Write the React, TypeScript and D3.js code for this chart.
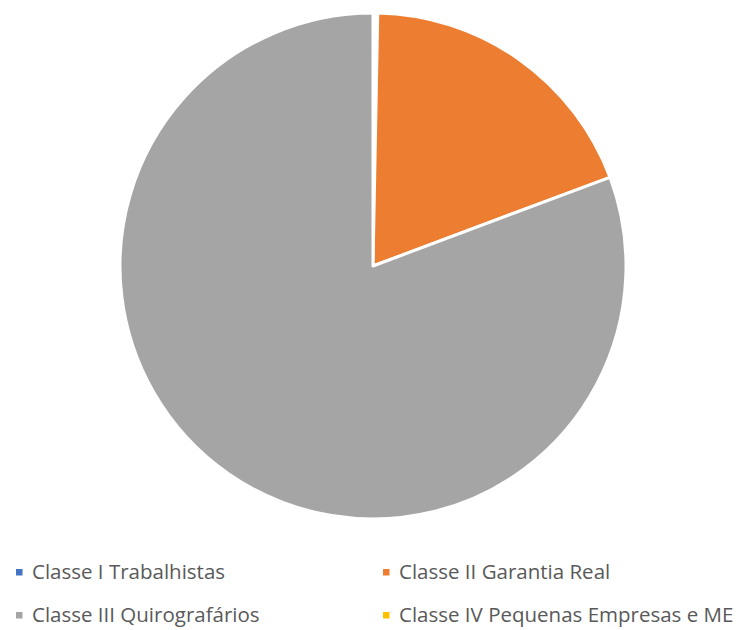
import React, { useEffect, useRef } from "react";
import * as d3 from "d3";

// Legend / slice categories and their share of the total (%)
const categories = [
  "Classe I Trabalhistas",
  "Classe II Garantia Real",
  "Classe III Quirografários",
  "Classe IV Pequenas Empresas e ME",
];
const values = [0.3, 19.0, 80.7, 0.0];
const colors = ["#4472C4", "#ED7D31", "#A5A5A5", "#FFC000"];

const App = () => {
  const ref = useRef<SVGSVGElement | null>(null);

  useEffect(() => {
    const width = 743,
      height = 630;
    const cx = 373,
      cy = 266,
      radius = 253;

    const svg = d3.select(ref.current);
    svg.selectAll("*").remove();
    svg.attr("width", width).attr("height", height);

    svg.append("rect").attr("width", width).attr("height", height).attr("fill", "#fff");

    const data = categories.map((c, i) => ({ name: c, value: values[i], color: colors[i] }));

    // Excel-style pie: starts at 12 o'clock, clockwise, no sorting
    const pie = d3
      .pie<{ name: string; value: number; color: string }>()
      .sort(null)
      .value((d) => d.value);
    const arc = d3.arc<d3.PieArcDatum<any>>().innerRadius(0).outerRadius(radius);

    const g = svg.append("g").attr("transform", `translate(${cx},${cy})`);
    g.selectAll("path")
      .data(pie(data).filter((d) => d.data.value > 0))
      .enter()
      .append("path")
      .attr("d", arc as any)
      .attr("fill", (d) => d.data.color)
      .attr("stroke", "#fff")
      // the white border swallows very thin slices, as in the original
      .attr("stroke-width", (d) => (d.data.value < 1 ? 6 : 3))
      .attr("stroke-linejoin", "round");

    // Legend, two columns
    const colX = [16, 383];
    const rowY = [572, 615];
    const legend = svg
      .selectAll(".legend")
      .data(data)
      .enter()
      .append("g")
      .attr("class", "legend")
      .attr("transform", (_d, i) => `translate(${colX[i % 2]},${rowY[Math.floor(i / 2)]})`);

    legend
      .append("rect")
      .attr("x", 0)
      .attr("y", -3)
      .attr("width", 6.5)
      .attr("height", 6.5)
      .attr("fill", (d) => d.color);

    legend
      .append("text")
      .attr("x", 16)
      .attr("y", 7)
      .attr("fill", "#595959")
      .style("font-family", "'Open Sans', 'Liberation Sans', sans-serif")
      .style("font-size", "20.5px")
      .text((d) => d.name);
  }, []);

  return (
    <svg
      ref={ref}
      style={{ position: "absolute", left: 0, top: 0, display: "block" }}
    ></svg>
  );
};

export default App;
